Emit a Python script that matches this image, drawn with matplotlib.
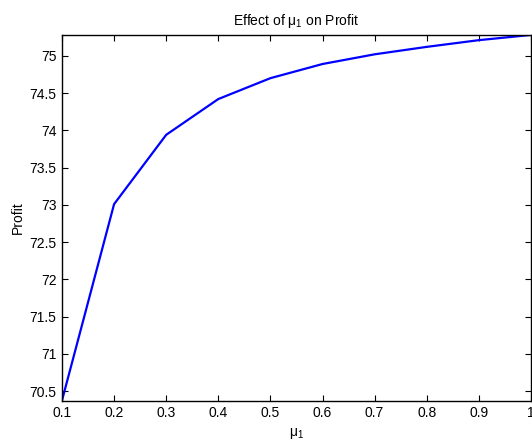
import matplotlib
matplotlib.use('Agg')
import matplotlib.pyplot as plt
import numpy as np

# values
mu1 = [0.1, 0.2, 0.3, 0.4, 0.5, 0.6, 0.7, 0.8, 0.9, 1.0]
profit = [70.375, 73.01, 73.94, 74.42, 74.70, 74.89, 75.02, 75.12, 75.21, 75.28]
yticks = [70.5, 71, 71.5, 72, 72.5, 73, 73.5, 74, 74.5, 75]
xticks = [0.1, 0.2, 0.3, 0.4, 0.5, 0.6, 0.7, 0.8, 0.9, 1.0]

plt.rcParams['font.family'] = ['Liberation Sans', 'DejaVu Sans']
plt.rcParams['mathtext.fontset'] = 'custom'
plt.rcParams['mathtext.rm'] = 'Liberation Sans'
plt.rcParams['mathtext.it'] = 'Liberation Sans'
plt.rcParams['font.size'] = 10

fig = plt.figure(figsize=(5.32, 4.48), dpi=100)
ax = fig.add_axes([0.1165, 0.106, 0.8815, 0.816])
ax.plot(mu1, profit, color='#0000ff', linewidth=1.6)

ax.set_xlim(min(mu1), max(mu1))
ax.set_ylim(min(profit), max(profit))
ax.set_xticks(xticks)
# the "1" sits on the right edge and is clipped there, as in the original
ax.set_xticklabels(['0.1', '0.2', '0.3', '0.4', '0.5', '0.6', '0.7', '0.8', '0.9', '1'])
ax.set_yticks(yticks)
ax.set_yticklabels(['70.5', '71', '71.5', '72', '72.5', '73', '73.5', '74', '74.5', '75'])
ax.tick_params(direction='in', top=True, right=True, length=4, width=0.8, pad=4)
for s in ax.spines.values():
    s.set_linewidth(1.0)

ax.set_title(r'Effect of $\mathrm{\mu_1}$ on Profit', fontsize=10, pad=7)
ax.set_xlabel(r'$\mathrm{\mu_1}$', fontsize=10, labelpad=4)
ax.set_ylabel('Profit', fontsize=10, labelpad=3)

fig.savefig('out.png', dpi=100)
